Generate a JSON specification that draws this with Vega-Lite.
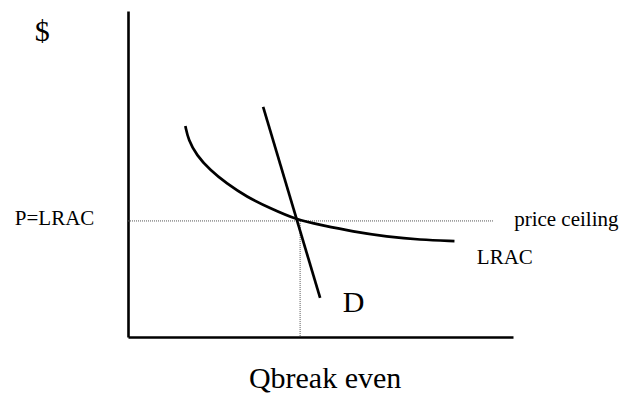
{
  "$schema": "https://vega.github.io/schema/vega-lite/v6.json",
  "width": 385,
  "height": 326,
  "autosize": "none",
  "padding": {"left": 128, "top": 11, "right": 110, "bottom": 59},
  "background": "white",
  "config": {"view": {"stroke": null}},
  "datasets": {
    "lrac": [
      {"q": 14.9, "p": 64.7},
      {"q": 15.7, "p": 60.4},
      {"q": 17.8, "p": 55.8},
      {"q": 21.3, "p": 51.2},
      {"q": 25.6, "p": 47.1},
      {"q": 30.8, "p": 43.0},
      {"q": 36.9, "p": 39.5},
      {"q": 43.9, "p": 35.9},
      {"q": 49.9, "p": 34.4},
      {"q": 58.5, "p": 32.3},
      {"q": 67.2, "p": 30.8},
      {"q": 75.8, "p": 29.8},
      {"q": 84.8, "p": 29.4}
    ],
    "demand": [
      {"q": 35.1, "p": 70.6},
      {"q": 49.9, "p": 12.0}
    ],
    "guides": [
      {"q": 0, "p": 35.6, "q2": 94.8, "p2": 35.6},
      {"q": 44.7, "p": 35.6, "q2": 44.7, "p2": 0}
    ],
    "bigLabels": [
      {"label": "$", "q": -24.2, "p": 90.8},
      {"label": "D", "q": 55.8, "p": 7.7},
      {"label": "Qbreak even", "q": 31.4, "p": -15.6}
    ],
    "smallLabels": [
      {"label": "P=LRAC", "q": -29.4, "p": 34.4},
      {"label": "price ceiling", "q": 100.3, "p": 34.0},
      {"label": "LRAC", "q": 90.6, "p": 22.4}
    ]
  },
  "layer": [
    {
      "data": {"name": "guides"},
      "mark": {"type": "rule", "color": "#555555", "strokeWidth": 1, "strokeDash": [1, 1]},
      "encoding": {
        "x": {"field": "q", "type": "quantitative", "scale": {"domain": [0, 100]},
              "axis": {"domain": true, "domainColor": "black", "domainWidth": 2.6, "ticks": false, "labels": false, "grid": false, "title": null}},
        "y": {"field": "p", "type": "quantitative", "scale": {"domain": [0, 100]},
              "axis": {"domain": true, "domainColor": "black", "domainWidth": 2.6, "ticks": false, "labels": false, "grid": false, "title": null}},
        "x2": {"field": "q2"},
        "y2": {"field": "p2"}
      }
    },
    {
      "data": {"name": "lrac"},
      "mark": {"type": "line", "color": "black", "strokeWidth": 2.7, "interpolate": "basis"},
      "encoding": {
        "x": {"field": "q", "type": "quantitative"},
        "y": {"field": "p", "type": "quantitative"}
      }
    },
    {
      "data": {"name": "demand"},
      "mark": {"type": "line", "color": "black", "strokeWidth": 2.7},
      "encoding": {
        "x": {"field": "q", "type": "quantitative"},
        "y": {"field": "p", "type": "quantitative"}
      }
    },
    {
      "data": {"name": "bigLabels"},
      "mark": {"type": "text", "font": "Liberation Serif", "fontSize": 30, "align": "left", "baseline": "alphabetic", "color": "black"},
      "encoding": {
        "x": {"field": "q", "type": "quantitative"},
        "y": {"field": "p", "type": "quantitative"},
        "text": {"field": "label"}
      }
    },
    {
      "data": {"name": "smallLabels"},
      "mark": {"type": "text", "font": "Liberation Serif", "fontSize": 21, "align": "left", "baseline": "alphabetic", "color": "black"},
      "encoding": {
        "x": {"field": "q", "type": "quantitative"},
        "y": {"field": "p", "type": "quantitative"},
        "text": {"field": "label"}
      }
    }
  ]
}
